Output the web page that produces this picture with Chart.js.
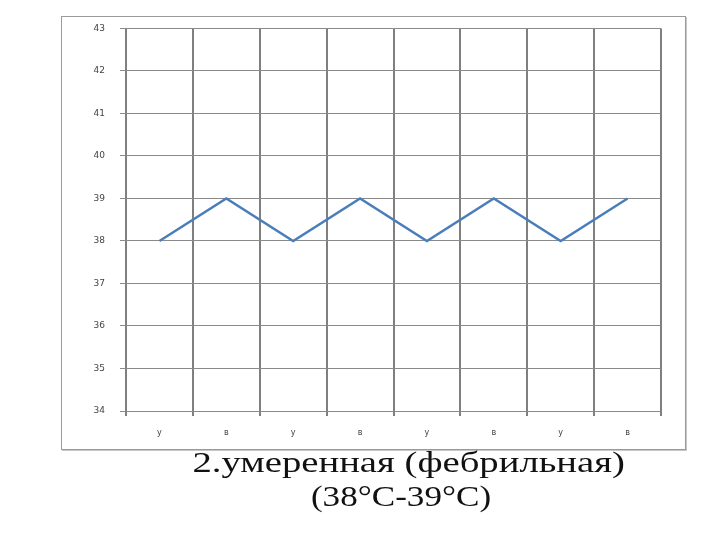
<!DOCTYPE html>
<html>
<head>
<meta charset="utf-8">
<script src="https://cdn.jsdelivr.net/npm/chart.js@4"></script>
<style>
  body { margin: 0; background: #fff; width: 720px; height: 540px; position: relative; overflow: hidden; }
  #frame { position: absolute; left: 61px; top: 16px; width: 623px; height: 432px; border: 1px solid #9a9a9a; box-shadow: 1px 1px 0 #c8c8c8; }
  #temp_canvas { position: absolute; left: 0; top: -9px; }
  .cap { position: absolute; left: 0; width: 720px; text-align: center; white-space: nowrap;
    font-family: "Liberation Serif", "DejaVu Serif", serif; font-size: 30px; line-height: 34px; color: #111; }
  .cap span { display: inline-block; }
  #cap1 { top: 445px; }
  #cap1 span { transform: scaleX(1.29); margin-left: 98px; }
  #cap2 { top: 479px; }
  #cap2 span { transform: scaleX(1.17); margin-left: 82px; }
</style>
</head>
<body>
<div id="frame"><canvas id="temp_canvas" width="623" height="441"></canvas></div>
<div class="cap" id="cap1"><span>2.умеренная (фебрильная)</span></div>
<div class="cap" id="cap2"><span>(38°С-39°С)</span></div>
<script>
// температурная кривая: у - утро, в - вечер
var day_labels = ['у', 'в', 'у', 'в', 'у', 'в', 'у', 'в'];
var temp_values = [38, 39, 38, 39, 38, 39, 38, 39];
var y_min = 34;
var y_max = 43;

var ChartData = {
    labels: day_labels,
    datasets: [{
        label: 'Температура',
        data: temp_values,
        borderColor: '#4a7ebb',
        borderWidth: 2.5,
        pointRadius: 0,
        tension: 0,
        fill: false
    }]
};

var ChartOption = {
    responsive: false,
    animation: false,
    layout: { padding: { top: 0, right: 24, bottom: 0, left: 0 } },
    plugins: { legend: { display: false }, tooltip: { enabled: false } },
    scales: {
        x: {
            offset: true,
            grid: { offset: true, color: '#7f7f7f', lineWidth: 2, tickLength: 5, drawTicks: true },
            border: { display: false },
            ticks: { color: '#444', font: { family: 'DejaVu Sans', size: 8 }, padding: 12, maxRotation: 0 },
            afterFit: function (axis) { axis.height = 38; }
        },
        y: {
            min: y_min,
            max: y_max,
            grid: { color: '#8a8a8a', lineWidth: 1, tickLength: 6 },
            border: { display: false },
            ticks: { stepSize: 1, color: '#444', font: { family: 'DejaVu Sans', size: 9 }, padding: 15 },
            afterFit: function (axis) { axis.width = 64; }
        }
    }
};

var ctx = document.getElementById('temp_canvas').getContext('2d');
var myTempChart = new Chart(ctx, {
    type: 'line',
    data: ChartData,
    options: ChartOption
});
</script>
</body>
</html>
